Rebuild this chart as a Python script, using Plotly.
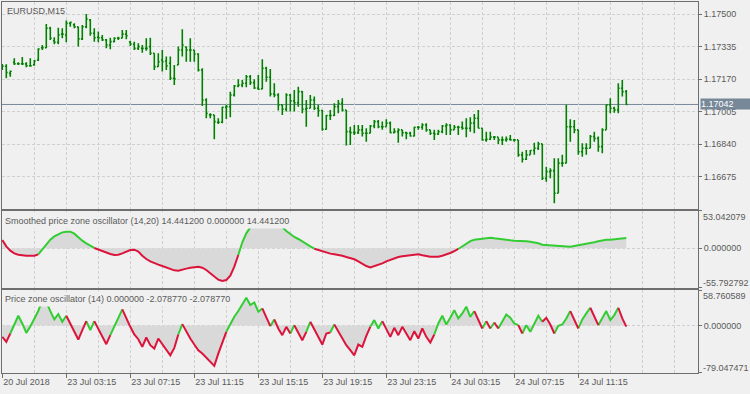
import plotly.graph_objects as go

# ---------------- data ----------------
symbol_label = "EURUSD,M15"
smooth_label = "Smoothed price zone oscillator (14,20) 14.441200 0.000000 14.441200"
pzo_label = "Price zone oscillator (14) 0.000000 -2.078770 -2.078770"

time_labels = ["20 Jul 2018", "23 Jul 03:15", "23 Jul 07:15", "23 Jul 11:15", "23 Jul 15:15",
               "23 Jul 19:15", "23 Jul 23:15", "24 Jul 03:15", "24 Jul 07:15", "24 Jul 11:15"]
bars_per_label = 16
bars_per_grid = 8

price_ticks = [1.17500, 1.17335, 1.17170, 1.17005, 1.16840, 1.16675]
last_price = 1.17042
price_range = [1.165095, 1.175624]
smooth_range = [-55.792792, 53.042079]
pzo_range = [-79.047471, 58.760589]

bar_open = [1.17237, 1.17236, 1.17200, 1.17256, 1.17249, 1.17249, 1.17248, 1.17239, 1.17243, 1.17268,
            1.17330, 1.17330, 1.17429, 1.17366, 1.17358, 1.17399, 1.17395, 1.17454, 1.17446, 1.17436,
            1.17375, 1.17437, 1.17471, 1.17404, 1.17383, 1.17381, 1.17370, 1.17344, 1.17361, 1.17378,
            1.17378, 1.17399, 1.17359, 1.17348, 1.17327, 1.17327, 1.17327, 1.17336, 1.17302, 1.17234,
            1.17268, 1.17263, 1.17251, 1.17175, 1.17243, 1.17319, 1.17334, 1.17319, 1.17319, 1.17298,
            1.17217, 1.17065, 1.16989, 1.16989, 1.16952, 1.16952, 1.17028, 1.17031, 1.17090, 1.17136,
            1.17141, 1.17150, 1.17183, 1.17153, 1.17126, 1.17121, 1.17226, 1.17180, 1.17095, 1.17090,
            1.17040, 1.17018, 1.17090, 1.17060, 1.17051, 1.17107, 1.17018, 1.17023, 1.17065, 1.17023,
            1.17011, 1.16916, 1.16986, 1.16986, 1.17031, 1.17048, 1.17014, 1.16904, 1.16899, 1.16899,
            1.16913, 1.16896, 1.16896, 1.16933, 1.16955, 1.16929, 1.16929, 1.16947, 1.16899, 1.16904,
            1.16913, 1.16899, 1.16896, 1.16882, 1.16926, 1.16926, 1.16938, 1.16913, 1.16896, 1.16892,
            1.16904, 1.16933, 1.16938, 1.16913, 1.16926, 1.16926, 1.16921, 1.16921, 1.16947, 1.16972,
            1.16921, 1.16862, 1.16865, 1.16876, 1.16876, 1.16862, 1.16862, 1.16865, 1.16862, 1.16862,
            1.16786, 1.16764, 1.16786, 1.16808, 1.16820, 1.16842, 1.16667, 1.16701, 1.16706, 1.16591,
            1.16744, 1.16744, 1.16929, 1.16929, 1.16913, 1.16802, 1.16820, 1.16820, 1.16879, 1.16870,
            1.16828, 1.16913, 1.17040, 1.17023, 1.17014, 1.17124, 1.17107]
bar_high = [1.17248, 1.17246, 1.17214, 1.17277, 1.17256, 1.17283, 1.17256, 1.17277, 1.17268, 1.17327,
            1.17344, 1.17451, 1.17437, 1.17383, 1.17432, 1.17429, 1.17468, 1.17462, 1.17454, 1.17437,
            1.17446, 1.17502, 1.17476, 1.17429, 1.17412, 1.17395, 1.17375, 1.17381, 1.17383, 1.17386,
            1.17420, 1.17420, 1.17366, 1.17361, 1.17353, 1.17344, 1.17378, 1.17381, 1.17302, 1.17302,
            1.17319, 1.17285, 1.17285, 1.17243, 1.17336, 1.17424, 1.17336, 1.17378, 1.17319, 1.17302,
            1.17226, 1.17074, 1.16997, 1.16989, 1.16972, 1.17031, 1.17040, 1.17107, 1.17141, 1.17170,
            1.17166, 1.17192, 1.17192, 1.17170, 1.17192, 1.17272, 1.17234, 1.17222, 1.17150, 1.17099,
            1.17040, 1.17099, 1.17095, 1.17116, 1.17132, 1.17111, 1.17065, 1.17090, 1.17082, 1.17040,
            1.17014, 1.16989, 1.17014, 1.17048, 1.17065, 1.17074, 1.17014, 1.16929, 1.16938, 1.16938,
            1.16938, 1.16921, 1.16938, 1.16963, 1.16963, 1.16955, 1.16967, 1.16955, 1.16921, 1.16921,
            1.16913, 1.16904, 1.16904, 1.16929, 1.16933, 1.16947, 1.16947, 1.16913, 1.16913, 1.16913,
            1.16938, 1.16947, 1.16940, 1.16938, 1.16934, 1.16955, 1.16972, 1.16977, 1.16994, 1.17014,
            1.16921, 1.16904, 1.16904, 1.16882, 1.16876, 1.16879, 1.16879, 1.16887, 1.16865, 1.16862,
            1.16802, 1.16811, 1.16811, 1.16848, 1.16853, 1.16842, 1.16726, 1.16718, 1.16769, 1.16769,
            1.16786, 1.17040, 1.16967, 1.16963, 1.16913, 1.16845, 1.16845, 1.16887, 1.16904, 1.16879,
            1.16921, 1.17040, 1.17074, 1.17031, 1.17150, 1.17166, 1.17116]
bar_low = [1.17217, 1.17175, 1.17183, 1.17243, 1.17243, 1.17243, 1.17231, 1.17233, 1.17239, 1.17263,
           1.17319, 1.17327, 1.17370, 1.17348, 1.17348, 1.17378, 1.17358, 1.17437, 1.17429, 1.17336,
           1.17370, 1.17429, 1.17391, 1.17361, 1.17358, 1.17364, 1.17327, 1.17322, 1.17358, 1.17370,
           1.17378, 1.17373, 1.17339, 1.17319, 1.17319, 1.17305, 1.17315, 1.17293, 1.17217, 1.17234,
           1.17209, 1.17217, 1.17166, 1.17141, 1.17243, 1.17285, 1.17259, 1.17259, 1.17259, 1.17209,
           1.17034, 1.16972, 1.16972, 1.16865, 1.16943, 1.16947, 1.16968, 1.16977, 1.17082, 1.17129,
           1.17129, 1.17129, 1.17141, 1.17121, 1.17116, 1.17119, 1.17158, 1.17082, 1.17079, 1.17011,
           1.16989, 1.17006, 1.17006, 1.17006, 1.17031, 1.16997, 1.16929, 1.17023, 1.17014, 1.16980,
           1.16909, 1.16913, 1.16963, 1.16984, 1.16997, 1.17006, 1.16833, 1.16836, 1.16887, 1.16892,
           1.16879, 1.16853, 1.16896, 1.16921, 1.16921, 1.16913, 1.16929, 1.16896, 1.16896, 1.16848,
           1.16879, 1.16865, 1.16879, 1.16879, 1.16913, 1.16913, 1.16904, 1.16887, 1.16862, 1.16887,
           1.16896, 1.16887, 1.16887, 1.16913, 1.16887, 1.16913, 1.16876, 1.16904, 1.16896, 1.16921,
           1.16858, 1.16853, 1.16862, 1.16862, 1.16841, 1.16836, 1.16853, 1.16858, 1.16853, 1.16777,
           1.16747, 1.16760, 1.16786, 1.16786, 1.16811, 1.16659, 1.16650, 1.16667, 1.16540, 1.16591,
           1.16726, 1.16744, 1.16853, 1.16896, 1.16786, 1.16777, 1.16786, 1.16820, 1.16853, 1.16802,
           1.16794, 1.16913, 1.16997, 1.17000, 1.16997, 1.17082, 1.17040]
bar_close = [1.17236, 1.17204, 1.17211, 1.17249, 1.17249, 1.17248, 1.17239, 1.17238, 1.17263, 1.17324,
             1.17330, 1.17429, 1.17378, 1.17358, 1.17395, 1.17399, 1.17454, 1.17459, 1.17436, 1.17375,
             1.17437, 1.17476, 1.17404, 1.17381, 1.17381, 1.17370, 1.17344, 1.17361, 1.17378, 1.17378,
             1.17399, 1.17391, 1.17349, 1.17327, 1.17336, 1.17327, 1.17327, 1.17302, 1.17234, 1.17259,
             1.17259, 1.17238, 1.17175, 1.17172, 1.17319, 1.17344, 1.17319, 1.17319, 1.17298, 1.17217,
             1.17065, 1.16997, 1.16989, 1.16955, 1.16952, 1.17028, 1.17031, 1.17090, 1.17136, 1.17141,
             1.17150, 1.17183, 1.17153, 1.17126, 1.17119, 1.17226, 1.17180, 1.17095, 1.17090, 1.17040,
             1.17018, 1.17090, 1.17060, 1.17051, 1.17107, 1.17018, 1.17023, 1.17065, 1.17023, 1.17011,
             1.16916, 1.16986, 1.16986, 1.17031, 1.17048, 1.17014, 1.16904, 1.16899, 1.16899, 1.16913,
             1.16896, 1.16896, 1.16933, 1.16955, 1.16929, 1.16929, 1.16947, 1.16899, 1.16904, 1.16913,
             1.16899, 1.16896, 1.16882, 1.16926, 1.16926, 1.16938, 1.16913, 1.16896, 1.16892, 1.16904,
             1.16933, 1.16938, 1.16913, 1.16926, 1.16926, 1.16921, 1.16921, 1.16947, 1.16972, 1.16921,
             1.16862, 1.16865, 1.16876, 1.16876, 1.16862, 1.16862, 1.16865, 1.16862, 1.16862, 1.16786,
             1.16764, 1.16786, 1.16808, 1.16820, 1.16842, 1.16667, 1.16701, 1.16706, 1.16591, 1.16744,
             1.16744, 1.16929, 1.16929, 1.16913, 1.16802, 1.16820, 1.16820, 1.16879, 1.16870, 1.16828,
             1.16913, 1.17040, 1.17023, 1.17014, 1.17124, 1.17107, 1.17042]

smooth_pzo = [11.8, 2.8, -3.3, -7.1, -9.0, -9.9, -10.4, -10.4, -10.4, -8.5,
              -1.4, 5.6, 12.2, 16.9, 20.2, 22.6, 23.5, 23.5, 20.7, 15.5,
              10.8, 7.1, 3.8, 0.5, -1.9, -3.8, -5.7, -8.0, -9.4, -9.0,
              -7.1, -4.2, -2.4, -1.9, -4.7, -10.4, -15.1, -18.4, -21.2, -23.1,
              -25.0, -26.9, -28.7, -31.1, -31.6, -30.6, -28.7, -27.3, -26.4, -25.9,
              -27.3, -30.6, -35.3, -40.0, -44.3, -46.2, -44.8, -38.6, -25.9, -9.4,
              8.5, 21.2, 29.7, 39.0, 46.5, 49.0, 48.5, 46.5, 43.5, 38.6,
              30.1, 24.5, 19.8, 16.0, 13.2, 9.4, 6.1, 2.8, -0.5, -2.4,
              -4.2, -6.1, -7.5, -8.5, -9.0, -10.4, -12.3, -13.7, -15.5, -18.4,
              -21.7, -25.0, -26.9, -25.0, -24.0, -21.2, -18.4, -16.0, -13.7, -12.3,
              -11.3, -10.4, -9.4, -8.5, -8.5, -9.9, -11.3, -11.8, -11.8, -11.8,
              -10.4, -9.0, -6.6, -3.8, -0.9, 2.8, 6.6, 10.3, 12.2, 13.2,
              14.1, 14.6, 15.1, 14.1, 13.2, 12.7, 12.2, 11.3, 10.8, 10.8,
              10.4, 9.9, 9.4, 8.5, 7.1, 5.2, 4.7, 4.7, 3.8, 2.8,
              2.3, 1.9, 2.3, 3.3, 4.2, 5.2, 6.1, 7.1, 8.5, 9.9,
              11.3, 12.2, 12.2, 12.7, 13.7, 14.6, 14.4412]
smooth_color_runs = [("G", 1), ("R", 9), ("G", 14), ("R", 36), ("G", 19), ("R", 36), ("G", 42)]

pzo = [-19.0, -27.4, -13.5, 2.1, 16.0, 3.2, -12.4, -1.8, 11.5, 23.8,
       42.1, 39.3, 23.8, 9.9, 18.8, 6.0, 16.0, 3.2, -10.7, -23.5,
       -7.9, 7.1, -7.9, 7.1, -5.1, -19.0, -31.2, -16.2, -2.4, 13.2,
       26.5, 11.5, -2.4, -15.1, -22.9, -35.7, -20.1, -32.9, -38.5, -21.8,
       -31.8, -39.6, -49.6, -37.3, -15.1, 2.1, -10.7, -21.8, -31.8, -41.2,
       -46.8, -54.0, -60.7, -67.3, -46.8, -27.4, -10.7, 3.2, 14.3, 23.8,
       35.4, 46.0, 33.8, 38.2, 22.7, 28.2, 12.7, -1.2, 9.9, -5.1,
       -16.2, -2.4, -13.5, 0.4, -13.5, -24.6, -10.7, 6.0, -6.8, -19.0,
       -31.8, -13.5, -11.8, 1.5, -10.7, -21.8, -32.9, -41.2, -49.6, -31.8,
       -35.7, -17.4, -2.4, 8.8, -5.1, 7.1, -5.1, -19.0, -4.0, -16.2,
       -2.4, -13.5, -24.6, -9.6, -21.8, -5.1, -19.0, -28.5, -15.1, 3.2,
       16.0, 1.5, 12.7, 25.4, 11.5, 19.9, 31.0, 14.3, 23.8, 8.8,
       -5.1, 7.1, -5.1, 4.9, -5.1, 6.0, 18.2, 12.7, 3.2, 0.4,
       -13.5, 0.4, -10.7, 3.2, 16.0, 6.0, 12.7, 1.5, -13.5, -0.7,
       1.5, 11.5, 23.8, 8.8, -5.1, 9.9, 19.9, 29.3, 14.3, 0.4,
       12.7, 23.8, 8.8, 17.1, 29.3, 11.5, -2.07877]
pzo_color_runs = [("R", 3), ("G", 14), ("R", 5), ("G", 2), ("R", 4), ("G", 3), ("R", 14), ("G", 1),
                  ("R", 11), ("G", 9), ("R", 2), ("G", 1), ("R", 4), ("G", 1), ("R", 3), ("G", 1),
                  ("R", 5), ("G", 1), ("R", 9), ("G", 3), ("R", 13), ("G", 10), ("R", 2), ("G", 1),
                  ("R", 1), ("G", 1), ("R", 1), ("G", 5), ("R", 1), ("G", 5), ("R", 3), ("G", 4),
                  ("R", 2), ("G", 3), ("R", 2), ("G", 5), ("R", 2)]

# ---------------- style ----------------
BG = "#f0f0f0"
GRID = "#d0d0d0"
BORDER = "#6e6e6e"
TXT = "#5a5a5a"
BAR = "#008000"
UP = "#32cd32"
DN = "#dc143c"
FILL = "#d9d9d9"
PLINE = "#778899"
FONT = "Liberation Sans, Arial, sans-serif"


def expand(runs):
    out = []
    for c, cnt in runs:
        out.extend([c] * cnt)
    return out


def colored(vals, cols, which):
    xs, ys = [], []
    for k in range(1, len(vals)):
        if cols[k] != which:
            continue
        if xs and xs[-1] == k - 1:
            xs.append(k)
            ys.append(vals[k])
        else:
            if xs:
                xs.append(None)
                ys.append(None)
            xs += [k - 1, k]
            ys += [vals[k - 1], vals[k]]
    return xs, ys


n = len(bar_close)
idx = list(range(n))
smooth_cols = expand(smooth_color_runs)
pzo_cols = expand(pzo_color_runs)

fig = go.Figure()

fig.add_trace(go.Ohlc(x=idx, open=bar_open, high=bar_high, low=bar_low, close=bar_close,
                      increasing=dict(line=dict(color=BAR, width=1.6)),
                      decreasing=dict(line=dict(color=BAR, width=1.6)),
                      tickwidth=0.35, hoverinfo="skip", xaxis="x", yaxis="y"))

for vals, cols, xa, ya in [(smooth_pzo, smooth_cols, "x2", "y2"), (pzo, pzo_cols, "x3", "y3")]:
    fig.add_trace(go.Scatter(x=idx, y=vals, mode="lines", fill="tozeroy", fillcolor=FILL,
                             line=dict(width=0, color=FILL), hoverinfo="skip", xaxis=xa, yaxis=ya))
    for which, color in (("G", UP), ("R", DN)):
        sx, sy = colored(vals, cols, which)
        fig.add_trace(go.Scatter(x=sx, y=sy, mode="lines", line=dict(color=color, width=2),
                                 connectgaps=False, hoverinfo="skip", xaxis=xa, yaxis=ya))

x_range = [-0.075, 173.925]
label_vals = [i * bars_per_label for i in range(len(time_labels))]

xcommon = dict(range=x_range, showline=True, mirror=True, linecolor=BORDER, linewidth=1,
               showgrid=True, gridcolor=GRID, griddash="3px,2px", gridwidth=1,
               tickmode="array", tickvals=label_vals, zeroline=False,
               minor=dict(tickmode="linear", tick0=0, dtick=bars_per_grid, showgrid=True,
                          gridcolor=GRID, griddash="3px,2px", gridwidth=1, ticks=""),
               fixedrange=True)

fig.update_layout(
    width=750, height=394,
    margin=dict(l=2, r=52, t=2, b=21),
    paper_bgcolor=BG, plot_bgcolor=BG,
    showlegend=False,
    font=dict(family=FONT, size=9, color=TXT),
    xaxis=dict(**xcommon, anchor="y", showticklabels=False, ticks="", rangeslider=dict(visible=False)),
    xaxis2=dict(**xcommon, anchor="y2", matches="x", showticklabels=False, ticks=""),
    xaxis3=dict(**xcommon, anchor="y3", matches="x", showticklabels=True, ticktext=time_labels,
                ticks="outside", ticklen=4, tickcolor=BORDER, ticklabelposition="outside right",
                tickfont=dict(family=FONT, size=9, color=TXT)),
    yaxis=dict(domain=[0.4412, 1.0], range=price_range, side="right", showline=True, mirror=True,
               linecolor=BORDER, tickmode="array", tickvals=price_ticks,
               ticktext=["%.5f" % v for v in price_ticks], ticks="outside", ticklen=3,
               tickcolor=BORDER, showgrid=True, gridcolor=GRID, griddash="3px,2px",
               zeroline=False, fixedrange=True),
    yaxis2=dict(domain=[0.2296, 0.4372], range=smooth_range, side="right", showline=True,
                mirror=True, linecolor=BORDER, tickmode="array",
                tickvals=[smooth_range[1], 0, smooth_range[0]], ticktext=["", "0.000000", ""],
                ticks="outside", ticklen=3, tickcolor=BORDER, showgrid=True, gridcolor=GRID,
                griddash="3px,2px", zeroline=False, fixedrange=True),
    yaxis3=dict(domain=[0.0, 0.2237], range=pzo_range, side="right", showline=True,
                mirror=True, linecolor=BORDER, tickmode="array",
                tickvals=[pzo_range[1], 0, pzo_range[0]], ticktext=["", "0.000000", ""],
                ticks="outside", ticklen=3, tickcolor=BORDER, showgrid=True, gridcolor=GRID,
                griddash="3px,2px", zeroline=False, fixedrange=True),
)

# current price line
fig.add_shape(type="line", xref="x domain", yref="y", x0=0, x1=1, y0=last_price, y1=last_price,
              line=dict(color=PLINE, width=1), layer="below")

ann = []
# price box
ann.append(dict(xref="paper", yref="y", x=1, y=last_price, xanchor="left", yanchor="middle",
                text="%.5f" % last_price, showarrow=False, bgcolor=PLINE, borderpad=0,
                width=50, height=10, align="left", xshift=2,
                font=dict(family=FONT, size=9, color="#ffffff")))
# sub-window extreme labels
for yref, rng in (("y2", smooth_range), ("y3", pzo_range)):
    ann.append(dict(xref="paper", yref=yref, x=1, y=rng[1], xanchor="left", yanchor="middle",
                    text="%.6f" % rng[1], showarrow=False, xshift=3, yshift=-6,
                    font=dict(family=FONT, size=9, color=TXT)))
    ann.append(dict(xref="paper", yref=yref, x=1, y=rng[0], xanchor="left", yanchor="middle",
                    text="%.6f" % rng[0], showarrow=False, xshift=3, yshift=5,
                    font=dict(family=FONT, size=9, color=TXT)))
# window titles
ann.append(dict(xref="x domain", yref="y domain", x=0, y=1, xanchor="left", yanchor="top",
                text=symbol_label, showarrow=False, xshift=3, yshift=-2,
                font=dict(family=FONT, size=9, color=TXT)))
ann.append(dict(xref="x2 domain", yref="y2 domain", x=0, y=1, xanchor="left", yanchor="top",
                text=smooth_label, showarrow=False, xshift=2, yshift=-1, width=292, height=15,
                align="left", valign="middle", bgcolor=BG, borderpad=0,
                font=dict(family=FONT, size=9, color=TXT)))
ann.append(dict(xref="x3 domain", yref="y3 domain", x=0, y=1, xanchor="left", yanchor="top",
                text=pzo_label, showarrow=False, xshift=2, yshift=-1, width=232, height=14,
                align="left", valign="middle", bgcolor=BG, borderpad=0,
                font=dict(family=FONT, size=9, color=TXT)))
fig.update_layout(annotations=ann)

fig.write_html("out.html", config={"displayModeBar": False, "staticPlot": True},
               post_script="document.body.style.margin='0';document.body.style.overflow='hidden';")
